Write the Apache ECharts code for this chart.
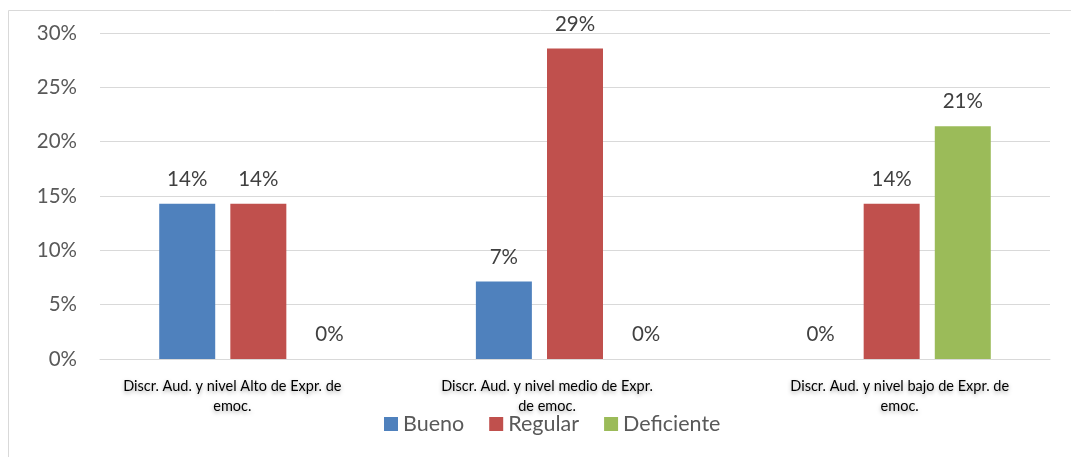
<!DOCTYPE html>
<html>
<head>
<meta charset="utf-8">
<script src="https://cdn.jsdelivr.net/npm/echarts@6/dist/echarts.min.js"></script>
<style>html,body{margin:0;padding:0;background:#fff;}#c{width:1071px;height:457px;}</style>
</head>
<body>
<div id="c"></div>
<script>
var categories = [
  "Discr. Aud. y nivel Alto de Expr. de\nemoc.",
  "Discr. Aud. y nivel medio de Expr.\nde emoc.",
  "Discr. Aud. y nivel bajo de Expr. de\nemoc."
];
var seriesNames = ["Bueno", "Regular", "Deficiente"];
var bueno = [14.29, 7.14, 0];
var regular = [14.29, 28.57, 14.29];
var deficiente = [0, 0, 21.43];
var yTicks = [0, 5, 10, 15, 20, 25, 30];
var colors = ["#4F81BD", "#C0504D", "#9BBB59"];

// layout: per-label horizontal padding to mimic the original label placement
var labelPads = [[0, 52, 0, 0], [0, 56, 0, 0], [0, 0, 0, 16]];

var font = "Lato, 'Open Sans', sans-serif";
var chart = echarts.init(document.getElementById('c'));
function mk(name, data, color) {
  return {
    name: name, type: 'bar', data: data, barWidth: 56, barGap: '27%',
    itemStyle: { color: color },
    label: { show: true, position: 'top', distance: 14, color: '#404040', fontSize: 20.5, fontFamily: font,
      formatter: function (p) { return Math.round(p.value) + '%'; } }
  };
}
var catData = categories.map(function (c, i) {
  return { value: c, textStyle: { padding: labelPads[i] } };
});
chart.setOption({
  animation: false,
  textStyle: { fontFamily: font },
  graphic: [{ type: 'rect', shape: { x: 8.5, y: 10.5, width: 1100, height: 500 },
    style: { fill: 'none', stroke: '#d9d9d9', lineWidth: 1 }, silent: true }],
  grid: { left: 100, right: 21, top: 33, bottom: 98 },
  legend: {
    data: seriesNames, bottom: 17, left: 379, itemWidth: 14, itemHeight: 14, itemGap: 25,
    icon: 'rect', textStyle: { fontSize: 21.5, color: '#595959', fontFamily: font }
  },
  xAxis: {
    type: 'category', data: catData,
    axisLine: { lineStyle: { color: '#d9d9d9', width: 1 } },
    axisTick: { show: false },
    axisLabel: { color: '#000', fontSize: 14.5, fontFamily: font, margin: 17, lineHeight: 20,
      textShadowColor: 'rgba(0,0,0,0.35)', textShadowBlur: 4, textShadowOffsetY: 2 }
  },
  yAxis: {
    type: 'value', min: yTicks[0], max: yTicks[yTicks.length - 1], interval: 5,
    axisLine: { show: false }, axisTick: { show: false },
    splitLine: { lineStyle: { color: '#d9d9d9', width: 1 } },
    axisLabel: { color: '#595959', fontSize: 20.5, fontFamily: font, margin: 23,
      formatter: function (v) { return v + '%'; } }
  },
  series: [mk(seriesNames[0], bueno, colors[0]), mk(seriesNames[1], regular, colors[1]), mk(seriesNames[2], deficiente, colors[2])]
});
</script>
</body>
</html>
